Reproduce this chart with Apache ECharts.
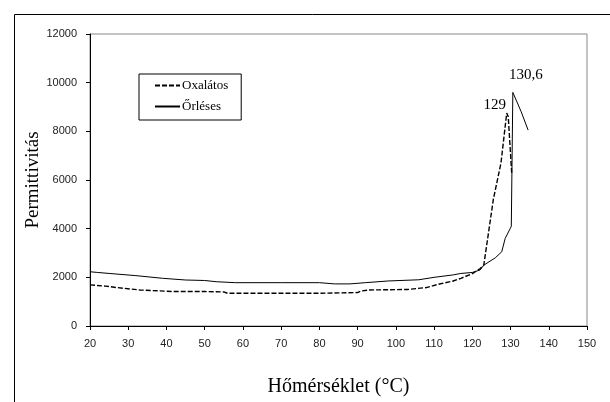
<!DOCTYPE html>
<html>
<head>
<meta charset="utf-8">
<script src="https://cdn.jsdelivr.net/npm/echarts@6/dist/echarts.min.js"></script>
<style>
  html, body { margin: 0; padding: 0; background: #fff; }
  #chart { width: 610px; height: 402px; }
</style>
</head>
<body>
<div id="chart"></div>
<script>
// Hőmérséklet (°C) – permittivitás, két minta
const seriesNames = ['Oxalátos', 'Őrléses'];

// Oxalátos: alsó görbe, csúcs 129 °C-nál (szaggatott)
const oxalatosT = [20, 24, 27, 33, 42, 50, 55, 56, 70, 80, 90, 91, 93, 103, 108, 111, 115, 117, 120, 122, 123, 125.5, 127.5, 129, 129.4, 130.3];
const oxalatosV = [1690, 1640, 1580, 1480, 1415, 1415, 1400, 1345, 1345, 1345, 1375, 1440, 1480, 1500, 1580, 1710, 1850, 1960, 2150, 2350, 2500, 5200, 6700, 8750, 8600, 6300];

// Őrléses: felső görbe, csúcs 130,6 °C-nál (folytonos)
const orlesesT = [20, 22, 25, 32, 39, 45, 50, 53, 58, 70, 80, 84, 88, 92, 98, 106, 110, 115, 117, 120, 122, 123, 126, 127.7, 128.6, 129.9, 130.2, 130.6, 132.8, 134.6];
const orlesesV = [2230, 2200, 2160, 2070, 1960, 1890, 1870, 1820, 1780, 1780, 1780, 1730, 1730, 1780, 1850, 1900, 2000, 2100, 2160, 2200, 2300, 2500, 2800, 3050, 3600, 4000, 4100, 9600, 8800, 8050];

// csúcsfeliratok
const peakLabels = ['129', '130,6'];
const peakPoints = [[129, 8750], [130.6, 9600]];

const serif = '"Liberation Serif", "DejaVu Serif", serif';
const sans = '"Liberation Sans", Arial, sans-serif';

const zip = (xs, ys) => xs.map((x, i) => [x, ys[i]]);

const chart = echarts.init(document.getElementById('chart'), null, { renderer: 'canvas' });

const peakMark = (idx, offset) => ({
  symbol: 'circle',
  symbolSize: 0,
  silent: true,
  label: {
    show: true,
    formatter: peakLabels[idx],
    fontFamily: serif,
    fontSize: 15,
    color: '#000',
    offset: offset
  },
  data: [{ coord: peakPoints[idx] }]
});

const option = {
  animation: false,
  backgroundColor: '#fff',
  graphic: [
    {
      // külső keret (jobb és alsó széle a képen kívül esik)
      type: 'rect',
      left: 12, top: 12,
      shape: { width: 620, height: 420 },
      style: { fill: 'none', stroke: '#000', lineWidth: 1 },
      silent: true
    }
  ],
  grid: {
    left: 90, right: 23, top: 34, bottom: 74,
    show: true,
    borderColor: '#888',
    borderWidth: 1
  },
  legend: {
    orient: 'vertical',
    left: 139, top: 74,
    padding: [5, 13, 7, 15],
    itemGap: 8,
    itemWidth: 25,
    itemHeight: 11,
    borderColor: '#000',
    borderWidth: 1,
    borderRadius: 0,
    backgroundColor: '#fff',
    itemStyle: { opacity: 0 },
    textStyle: { fontFamily: serif, fontSize: 13, color: '#000', padding: [0, 0, 0, -3] },
    data: seriesNames
  },
  xAxis: {
    type: 'value',
    min: 20, max: 150, interval: 10,
    name: 'Hőmérséklet (°C)',
    nameLocation: 'middle',
    nameGap: 51,
    nameMoveOverlap: false,
    nameTextStyle: { fontFamily: serif, fontSize: 20, color: '#000' },
    axisLine: { show: true, lineStyle: { color: '#000', width: 1 } },
    axisTick: { show: true, length: 4, inside: false, lineStyle: { color: '#000' } },
    axisLabel: { margin: 12, fontFamily: sans, fontSize: 11, color: '#222' },
    splitLine: { show: false }
  },
  yAxis: {
    type: 'value',
    min: 0, max: 12000, interval: 2000,
    name: 'Permittivitás',
    nameLocation: 'middle',
    nameGap: 47,
    nameMoveOverlap: false,
    nameTextStyle: { fontFamily: serif, fontSize: 19, color: '#000' },
    axisLine: { show: true, lineStyle: { color: '#000', width: 1 } },
    axisTick: { show: true, length: 4, inside: false, lineStyle: { color: '#000' } },
    axisLabel: { margin: 13, fontFamily: sans, fontSize: 11, color: '#222', formatter: (v) => String(v) },
    splitLine: { show: false }
  },
  series: [
    {
      name: seriesNames[0],
      type: 'line',
      data: zip(oxalatosT, oxalatosV),
      symbol: 'none',
      lineStyle: { color: '#000', width: 1.4, type: [5, 2] },
      itemStyle: { color: '#000' },
      markPoint: peakMark(0, [-12, -8]),
      z: 3
    },
    {
      name: seriesNames[1],
      type: 'line',
      data: zip(orlesesT, orlesesV),
      symbol: 'none',
      lineStyle: { color: '#000', width: 1, type: 'solid' },
      itemStyle: { color: '#000' },
      markPoint: peakMark(1, [13, -17]),
      z: 3
    }
  ]
};

chart.setOption(option);
</script>
</body>
</html>
